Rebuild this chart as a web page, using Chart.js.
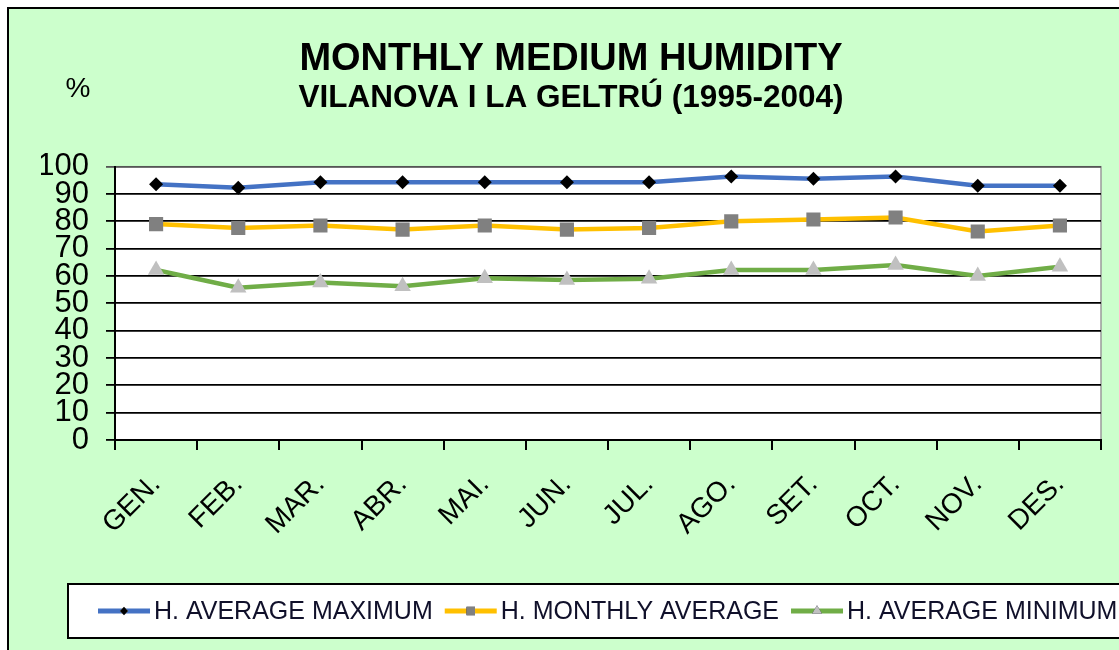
<!DOCTYPE html>
<html>
<head>
<meta charset="utf-8">
<script src="https://cdn.jsdelivr.net/npm/chart.js@4.4.1/dist/chart.umd.min.js"></script>
<style>
html,body{margin:0;padding:0;background:#fff;overflow:hidden;}
#wrap{position:absolute;left:0;top:0;width:1119px;height:650px;}
</style>
</head>
<body>
<div id="wrap"><canvas id="c" width="1119" height="650"></canvas></div>
<script>
const months = ['GEN.','FEB.','MAR.','ABR.','MAI.','JUN.','JUL.','AGO.','SET.','OCT.','NOV.','DES.'];
const avgMaximum = [93.6, 92.3, 94.3, 94.3, 94.3, 94.3, 94.3, 96.4, 95.6, 96.4, 93.0, 93.0];
const monthlyAverage = [79.0, 77.6, 78.5, 77.0, 78.5, 77.0, 77.6, 80.0, 80.7, 81.4, 76.3, 78.5];
const avgMinimum = [62.2, 55.7, 57.6, 56.3, 59.2, 58.5, 59.0, 62.2, 62.2, 64.0, 60.0, 63.4];
const seriesNames = ['H. AVERAGE MAXIMUM', 'H. MONTHLY AVERAGE', 'H. AVERAGE MINIMUM'];
const yTicks = [0,10,20,30,40,50,60,70,80,90,100];
const titleText = 'MONTHLY MEDIUM HUMIDITY';
const subtitleText = 'VILANOVA I LA GELTRÚ (1995-2004)';
const unitText = '%';

const FONT = 'Arial, "Liberation Sans", sans-serif';

const bgPlugin = {
  id: 'bg',
  beforeDraw(chart) {
    const ctx = chart.ctx, ca = chart.chartArea;
    ctx.save();
    ctx.fillStyle = '#ffffff';
    ctx.fillRect(0, 0, chart.width, chart.height);
    ctx.fillStyle = '#ccffcc';
    ctx.fillRect(7, 7, chart.width, chart.height);
    ctx.strokeStyle = '#000';
    ctx.lineWidth = 2;
    ctx.beginPath();
    ctx.moveTo(8, chart.height); ctx.lineTo(8, 8); ctx.lineTo(chart.width, 8);
    ctx.stroke();
    ctx.fillStyle = '#ffffff';
    ctx.fillRect(ca.left, ca.top, ca.right - ca.left, ca.bottom - ca.top);
    ctx.strokeStyle = '#9a9a9a';
    ctx.lineWidth = 1.5;
    ctx.strokeRect(ca.left, ca.top, ca.right - ca.left, ca.bottom - ca.top);
    ctx.restore();
  },
  afterDraw(chart) {
    const ctx = chart.ctx;
    ctx.save();
    // unit label
    ctx.fillStyle = '#000';
    ctx.font = '28px ' + FONT;
    ctx.textAlign = 'center';
    ctx.textBaseline = 'alphabetic';
    ctx.fillText(unitText, 78, 97);
    // legend box
    const bx = 68, by = 584, bh = 54;
    ctx.fillStyle = '#fff';
    ctx.fillRect(bx, by, chart.width - bx + 10, bh);
    ctx.strokeStyle = '#000';
    ctx.lineWidth = 2;
    ctx.strokeRect(bx, by, chart.width - bx + 10, bh);
    const cy = by + bh / 2;
    ctx.font = '25px ' + FONT;
    ctx.textAlign = 'left';
    ctx.textBaseline = 'middle';
    let x = 98;
    chart.data.datasets.forEach((ds, i) => {
      const sw = 52;
      ctx.strokeStyle = ds.borderColor;
      ctx.lineWidth = 5;
      ctx.beginPath(); ctx.moveTo(x, cy); ctx.lineTo(x + sw, cy); ctx.stroke();
      Chart.helpers.drawPoint(ctx, {
        pointStyle: ds.pointStyle, radius: ds.pointRadius * 0.6, borderWidth: 0
      }, x + sw / 2, cy);
      ctx.fillStyle = ds.pointBackgroundColor;
      ctx.fill();
      x += sw + 4;
      ctx.fillStyle = '#10102a';
      ctx.fillText(ds.label, x, cy + 1);
      x += ctx.measureText(ds.label).width + 12;
    });
    ctx.restore();
  }
};

new Chart(document.getElementById('c'), {
  type: 'line',
  data: {
    labels: months,
    datasets: [
      { label: seriesNames[0], data: avgMaximum, borderColor: '#4472c4', borderWidth: 4.5,
        pointStyle: 'rectRot', pointRadius: 7, pointBackgroundColor: '#000', pointBorderWidth: 0, tension: 0 },
      { label: seriesNames[1], data: monthlyAverage, borderColor: '#ffc000', borderWidth: 4.5,
        pointStyle: 'rect', pointRadius: 10, pointBackgroundColor: '#808080', pointBorderWidth: 0, tension: 0 },
      { label: seriesNames[2], data: avgMinimum, borderColor: '#70ad47', borderWidth: 4.5,
        pointStyle: 'triangle', pointRadius: 9.5, pointBackgroundColor: '#c0c0c0', pointBorderWidth: 0, tension: 0 }
    ]
  },
  options: {
    responsive: false,
    animation: false,
    layout: { padding: { left: 41, right: 18, top: 0, bottom: 0 } },
    plugins: {
      legend: { display: false },
      tooltip: { enabled: false },
      title: { display: true, text: titleText, color: '#000',
        font: { family: FONT, size: 38, weight: 'bold', lineHeight: 1.2 },
        padding: { top: 37, bottom: 0 } },
      subtitle: { display: true, text: subtitleText, color: '#000',
        font: { family: FONT, size: 31.5, weight: 'bold', lineHeight: 1.0 },
        padding: { top: 0, bottom: 52.6 } }
    },
    scales: {
      x: {
        type: 'category',
        offset: true,
        grid: { offset: true, drawOnChartArea: false, drawTicks: true, tickLength: 10, color: '#000', lineWidth: 2 },
        border: { display: true, color: '#000', width: 2 },
        ticks: { minRotation: 45, maxRotation: 45, autoSkip: false, color: '#000', padding: 18,
          font: { family: FONT, size: 28 } },
        afterFit(scale) { scale.height = 210; }
      },
      y: {
        min: 0, max: 100,
        afterBuildTicks(scale) { scale.ticks = yTicks.map(v => ({ value: v })); },
        grid: { color: ctx => (ctx.tick && ctx.tick.value === 100) ? '#555' : '#000', lineWidth: 1.8, tickLength: 9, drawTicks: true },
        border: { display: true, color: '#000', width: 2 },
        ticks: { autoSkip: false, color: '#000', padding: 17,
          font: { family: FONT, size: 31, lineHeight: 0.8 } },
        afterFit(scale) { scale.width = 74; }
      }
    }
  },
  plugins: [bgPlugin]
});
</script>
</body>
</html>
